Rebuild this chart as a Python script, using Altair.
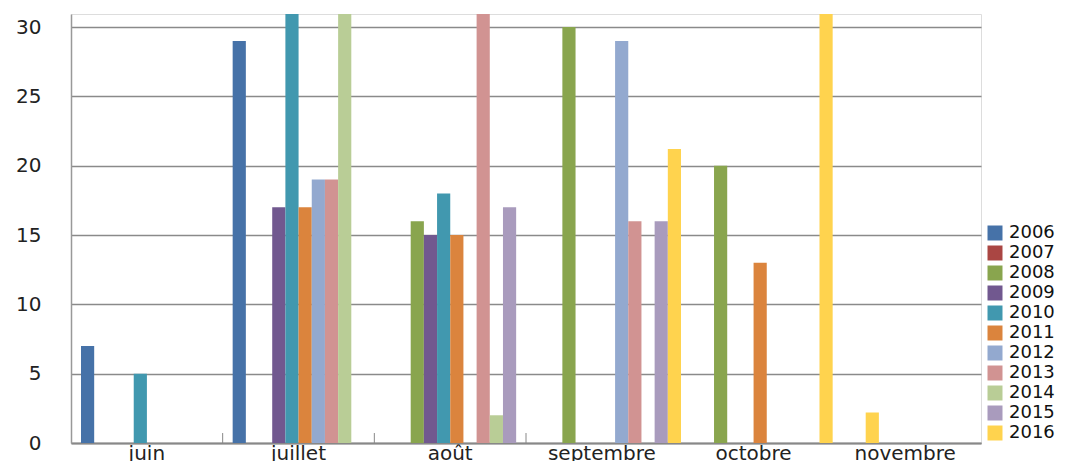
import altair as alt
import pandas as pd

months = ["juin", "juillet", "août", "septembre", "octobre", "novembre"]
years = ["2006", "2007", "2008", "2009", "2010", "2011", "2012", "2013", "2014", "2015", "2016"]
colors = ["#4672A8", "#AA4643", "#89A54E", "#71588F", "#4198AF", "#DB843D",
          "#93A9CF", "#D19392", "#B9CD96", "#A99BBD", "#FFD34E"]

# values per year, one per month (None = no bar); bars above 30 are cut at the top
v2006 = [7, 29, None, None, None, None]
v2007 = [None, None, None, None, None, None]
v2008 = [None, None, 16, 30, 20, None]
v2009 = [None, 17, 15, None, None, None]
v2010 = [5, 35, 18, None, None, None]
v2011 = [None, 17, 15, None, 13, None]
v2012 = [None, 19, None, 29, None, None]
v2013 = [None, 19, 35, 16, None, None]
v2014 = [None, 35, 2, None, None, None]
v2015 = [None, None, 17, 16, None, None]
v2016 = [None, None, None, 21.2, 35, 2.2]
series = [v2006, v2007, v2008, v2009, v2010, v2011, v2012, v2013, v2014, v2015, v2016]

# slot in which a bar is drawn when it differs from its own year
slot_override = {("novembre", "2016"): "2008"}

tick_months = ["juillet", "août", "septembre"]

rows = []
for y, vals in zip(years, series):
    for m, v in zip(months, vals):
        if v is not None:
            rows.append({"month": m, "year": y, "slot": slot_override.get((m, y), y), "value": v})
df = pd.DataFrame(rows)
ticks_df = pd.DataFrame({"month": tick_months})

FONT = "DejaVu Sans"
xscale = alt.Scale(domain=months, paddingInner=0, paddingOuter=0)
yscale = alt.Scale(domain=[0, 30.94], nice=False, zero=True)

bars = alt.Chart(df).mark_bar(clip=True).encode(
    x=alt.X("month:N", scale=xscale, sort=months,
            axis=alt.Axis(title=None, labelAngle=0, ticks=False, labelFont=FONT,
                          labelFontSize=20, labelColor="#222222", labelPadding=0,
                          domainColor="#888888", domainWidth=2, grid=False)),
    xOffset=alt.XOffset("slot:N", scale=alt.Scale(domain=years, range=[10, 155],
                                                   paddingInner=0, paddingOuter=0)),
    y=alt.Y("value:Q", scale=yscale,
            axis=alt.Axis(title=None, values=[0, 5, 10, 15, 20, 25, 30], ticks=False,
                          labelFont=FONT, labelFontSize=20, labelColor="#222222",
                          labelPadding=30, domainColor="#999999", domainWidth=1.5,
                          gridColor="#8a8a8a", gridWidth=1.5)),
    color=alt.Color("year:N", scale=alt.Scale(domain=years, range=colors),
                    legend=alt.Legend(title=None, orient="none", legendX=915, legendY=210,
                                      symbolType="square", symbolSize=225,
                                      symbolStrokeWidth=0, labelFont=FONT,
                                      labelFontSize=18, labelColor="#111111",
                                      labelOffset=5, rowPadding=2, padding=0,
                                      symbolOpacity=1)),
)

ticks = alt.Chart(ticks_df).mark_rule(color="#888888", strokeWidth=1).encode(
    x=alt.X("month:N", scale=xscale, sort=months, bandPosition=0),
    y=alt.datum(0),
    y2=alt.datum(0.72),
)

chart = alt.layer(bars, ticks).properties(
    width=910, height=429,
    autosize=alt.AutoSizeParams(type="none"),
    padding={"left": 63, "top": 6, "right": 80, "bottom": 18},
).configure_view(stroke=None).configure(background="white")

chart.save("out.html", embed_options={"renderer": "svg", "actions": False})
